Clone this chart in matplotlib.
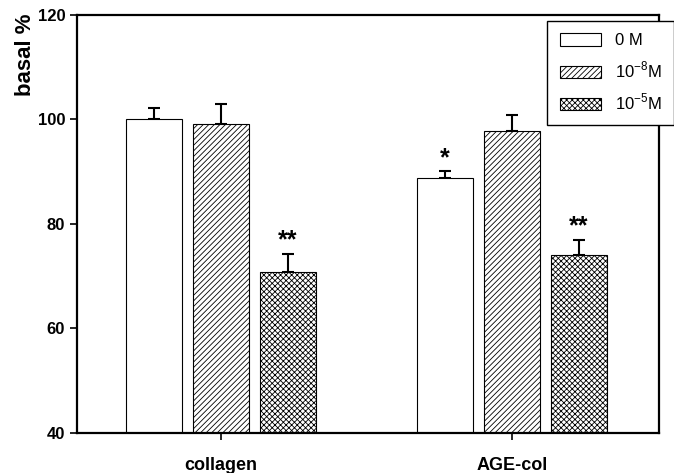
import matplotlib
matplotlib.use('Agg')
import matplotlib.pyplot as plt
from matplotlib.patches import Patch
import numpy as np

groups = ['collagen', 'AGE-col']
series = ['0 M', '10$^{\\mathregular{-8}}$M', '10$^{\\mathregular{-5}}$M']
hatches = ['', '//////', 'xxxxxx']
means = [[100.0, 88.8],
         [99.1, 97.8],
         [70.8, 74.1]]
errs = [[2.2, 1.3],
        [3.8, 3.1],
        [3.5, 2.8]]
stars = [['', '*'],
         ['', ''],
         ['**', '**']]

plt.rcParams['font.family'] = ['Liberation Sans', 'DejaVu Sans']
plt.rcParams['mathtext.fontset'] = 'custom'
plt.rcParams['mathtext.rm'] = 'Liberation Sans'
plt.rcParams['hatch.linewidth'] = 0.6
plt.rcParams['hatch.color'] = '#333333'

fig = plt.figure(figsize=(6.74, 4.73), dpi=100)
ax = fig.add_axes([0.1142, 0.0846, 0.8635, 0.8837])

x = np.arange(len(groups))
width = 0.19
step = 0.23
for i, name in enumerate(series):
    pos = x + (i - 1) * step
    ax.bar(pos, means[i], width, bottom=0, color='white', edgecolor='black',
           linewidth=0.8, hatch=hatches[i], zorder=2)
    ax.errorbar(pos, means[i], yerr=[np.zeros(len(groups)), errs[i]],
                fmt='none', ecolor='black', elinewidth=1.5, capsize=4,
                capthick=1.5, zorder=1)
    for j in range(len(groups)):
        if stars[i][j]:
            ax.annotate(stars[i][j], (pos[j], means[i][j] + errs[i][j]),
                        xytext=(0, 1), textcoords='offset points',
                        ha='center', va='bottom', fontsize=18,
                        fontweight='bold')

ax.set_xlim(-0.495, 1.505)
ax.set_ylim(40, 120)
ax.set_yticks([40, 60, 80, 100, 120])
ax.set_xticks(x)
ax.set_xticklabels(groups, fontsize=13, fontweight='bold')
for lab in ax.get_yticklabels():
    lab.set_fontsize(12)
    lab.set_fontweight('bold')
ax.tick_params(axis='both', direction='out', length=5, width=1.2)
ax.tick_params(axis='x', pad=12)
ax.set_ylabel('basal %', fontsize=16, fontweight='bold')
ax.yaxis.set_label_coords(-0.07, 0.905)
for s in ax.spines.values():
    s.set_linewidth(1.6)

handles = [Patch(facecolor='white', edgecolor='black', linewidth=0.8,
                 hatch=h, label=s) for h, s in zip(hatches, series)]
leg = fig.legend(handles=handles, loc='upper left',
                 bbox_to_anchor=(0.8116, 0.956), borderaxespad=0,
                 fontsize=12, fancybox=False, framealpha=1,
                 edgecolor='black', handlelength=2.5, handleheight=0.75,
                 labelspacing=0.7, borderpad=0.75, handletextpad=0.8)
leg.get_frame().set_linewidth(1.0)

fig.savefig('out.png', dpi=100)
